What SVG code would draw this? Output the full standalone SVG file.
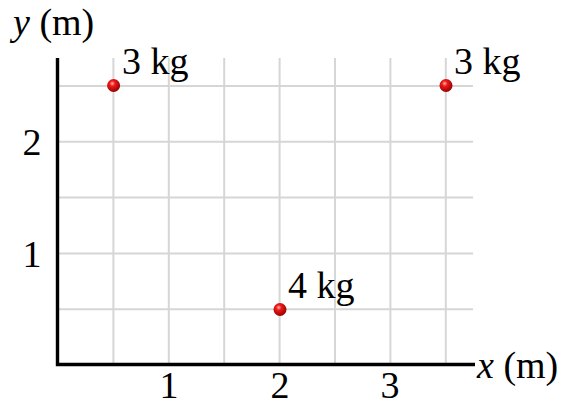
<svg xmlns="http://www.w3.org/2000/svg" width="564" height="405" viewBox="0 0 564 405">
<style>
.grid line{stroke:#d6d6d6;stroke-width:2}
.axis{stroke:#000;stroke-width:3.4;fill:none}
text{font-family:"Liberation Serif","Times New Roman",serif;font-size:38px;fill:#000}
.tick{text-anchor:middle}
</style>
<defs>
<radialGradient id="ball" cx="0.4" cy="0.35" r="0.7">
<stop offset="0" stop-color="#ffb0b0"/>
<stop offset="0.3" stop-color="#f01818"/>
<stop offset="1" stop-color="#8a0000"/>
</radialGradient>
</defs>
<rect width="564" height="405" fill="#fff"/>
<g class="grid">
<line x1="113.4" y1="58" x2="113.4" y2="365"/>
<line x1="168.8" y1="58" x2="168.8" y2="365"/>
<line x1="224.2" y1="58" x2="224.2" y2="365"/>
<line x1="279.6" y1="58" x2="279.6" y2="365"/>
<line x1="335" y1="58" x2="335" y2="365"/>
<line x1="390.4" y1="58" x2="390.4" y2="365"/>
<line x1="445.8" y1="58" x2="445.8" y2="365"/>
<line x1="58" y1="86" x2="473" y2="86"/>
<line x1="58" y1="141.8" x2="473" y2="141.8"/>
<line x1="58" y1="197.6" x2="473" y2="197.6"/>
<line x1="58" y1="253.4" x2="473" y2="253.4"/>
<line x1="58" y1="309.2" x2="473" y2="309.2"/>
</g>
<g id="axes">
<path class="axis" d="M57.5 58 V364.5 H475"/>
<text x="13" y="35"><tspan font-style="italic">y</tspan> (m)</text>
<text x="477" y="378"><tspan font-style="italic">x</tspan> (m)</text>
<text class="tick" x="169" y="398">1</text>
<text class="tick" x="280" y="398">2</text>
<text class="tick" x="390" y="398">3</text>
<text class="tick" x="32" y="155">2</text>
<text class="tick" x="32" y="267">1</text>
</g>
<g id="mass1">
<circle cx="113.6" cy="85.5" r="6.5" fill="url(#ball)"/>
<text x="122" y="74">3 kg</text>
</g>
<g id="mass2">
<circle cx="446" cy="85.5" r="6.5" fill="url(#ball)"/>
<text x="454" y="74">3 kg</text>
</g>
<g id="mass3">
<circle cx="280" cy="309.5" r="6.5" fill="url(#ball)"/>
<text x="288" y="298">4 kg</text>
</g>
</svg>
